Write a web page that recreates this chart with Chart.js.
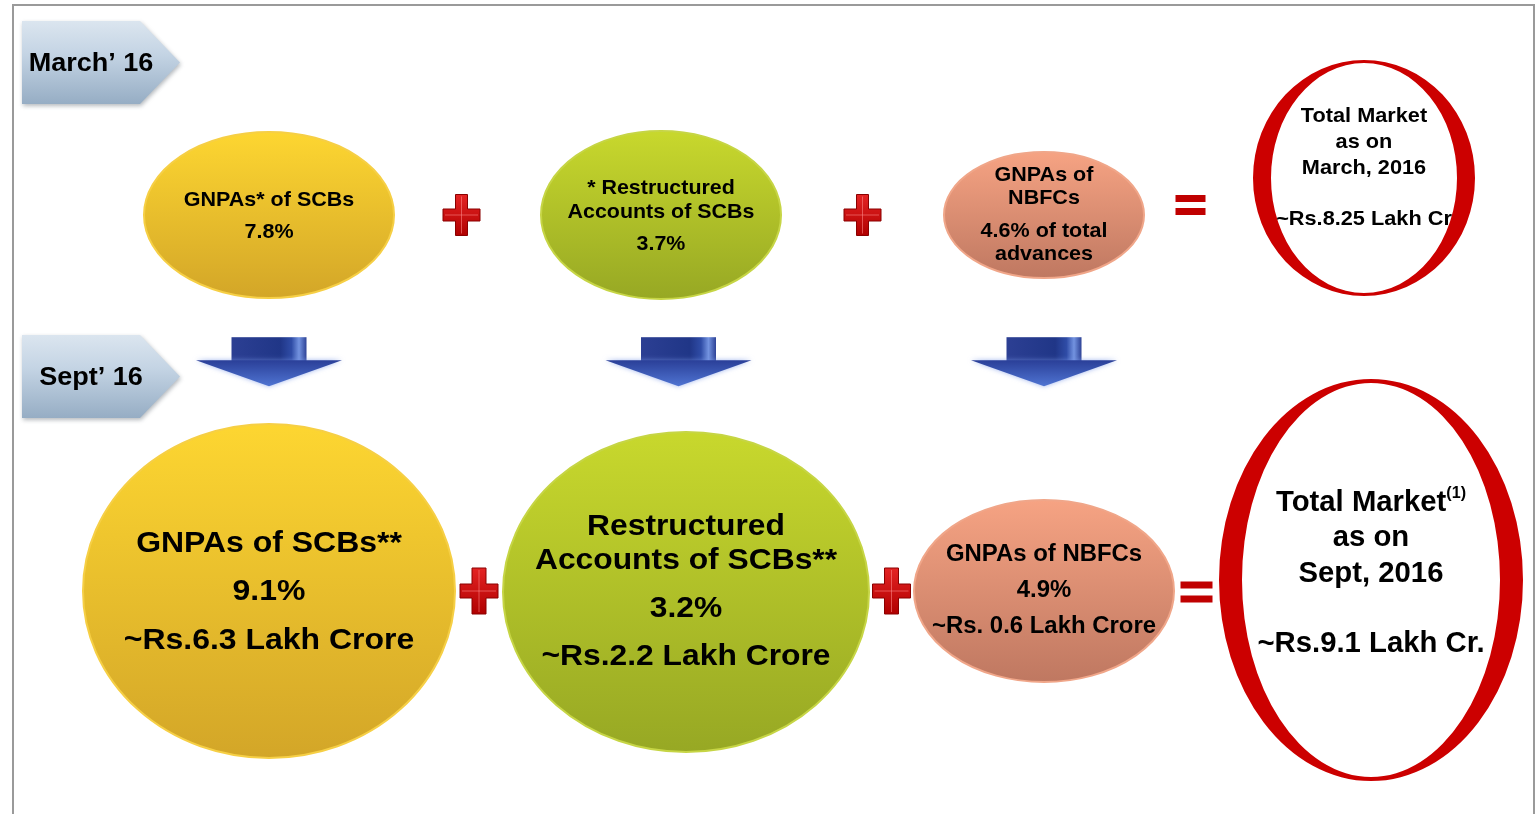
<!DOCTYPE html>
<html>
<head>
<meta charset="utf-8">
<title>GNPA market March'16 vs Sept'16</title>
<script src="https://cdn.jsdelivr.net/npm/chart.js@4.4.0/dist/chart.umd.min.js"></script>
<style>
  html, body { margin: 0; padding: 0; background: #fff; }
  #wrap { width: 1537px; height: 814px; }
</style>
</head>
<body>
<div id="wrap"><canvas id="npaChart" width="1537" height="814"></canvas></div>
<script>
const periods = ["March\u2019 16", "Sept\u2019 16"];
const components = ["GNPAs of SCBs", "Restructured Accounts of SCBs", "GNPAs of NBFCs", "Total Market"];

// % of advances
const marchPct = [7.8, 3.7, 4.6];
const septPct = [9.1, 3.2, 4.9];
// Rs. lakh crore
const septLakhCr = [6.3, 2.2, 0.6];
const septAmtPrefix = ["~Rs.", "~Rs.", "~Rs. "];
const marketLakhCr = [8.25, 9.1];

const marchNames = [["GNPAs* of SCBs"], ["* Restructured", "Accounts of SCBs"], ["GNPAs of", "NBFCs"]];
const septNames = [["GNPAs of SCBs**"], ["Restructured", "Accounts of SCBs**"], ["GNPAs of NBFCs"]];
const marketNames = [["Total Market", "as on", "March, 2016"], ["Total Market^(1)", "as on", "Sept, 2016"]];
const marketSuffix = [" Lakh Cr", " Lakh Cr."];

const FONT = '"Liberation Sans", Arial, sans-serif';

// paragraphs of text for each cell
function cellText(r, i) {
  if (i === 3) return [marketNames[r], ["~Rs." + marketLakhCr[r] + marketSuffix[r]]];
  if (r === 0) {
    const v = marchPct[i].toFixed(1) + "%";
    return [marchNames[i], i === 2 ? [v + " of total", "advances"] : [v]];
  }
  return [septNames[i], [septPct[i].toFixed(1) + "%"], [septAmtPrefix[i] + septLakhCr[i] + " Lakh Crore"]];
}

const fills = [
  { top: "#fdd631", bottom: "#d3a628", edge: "#f6cf45" },
  { top: "#c8d82d", bottom: "#97a824", edge: "#c6d545" },
  { top: "#f6a383", bottom: "#bf7861", edge: "#f0a689" }
];

const rowStyle = [
  {
    tabDy: -194, tabH: 83,
    shapes: [
      { dx: 0, dy: 0, rx: 125, ry: 83 },
      { dx: 26, dy: 0, rx: 120, ry: 84 },
      { dx: 43, dy: 0, rx: 100, ry: 63 },
      { dx: -3, dy: -37, rx: 111, ry: 118, side: 18, cap: 3 }
    ],
    text: [
      { fs: 20.5, sx: 1.05, lh: 24, pg: 32, dy: 1 },
      { fs: 20.5, sx: 1.045, lh: 24, pg: 32, dy: 1 },
      { fs: 20.5, sx: 1.05, lh: 23, pg: 33, dy: 0 },
      { fs: 20.5, sx: 1.06, lh: 26, pg: 51, dy: -10 }
    ],
    plus: { w: 37, h: 41, t: 12, dx: [-6, 0] },
    eq: { w: 30, t: 7, gap: 6, dy: -10, dx: -8 }
  },
  {
    tabDy: -256, tabH: 83,
    shapes: [
      { dx: 0, dy: 0, rx: 186, ry: 167 },
      { dx: 51, dy: 1, rx: 183, ry: 160 },
      { dx: 43, dy: 0, rx: 130, ry: 91 },
      { dx: 4, dy: -11, rx: 152, ry: 201, side: 23, cap: 4 }
    ],
    text: [
      { fs: 30, sx: 1.065, lh: 48, pg: 48.5, dy: 1 },
      { fs: 30, sx: 1.06, lh: 34, pg: 48, dy: 0 },
      { fs: 23, sx: 1.04, lh: 36, pg: 36, dy: 0 },
      { fs: 29, sx: 1.01, lh: 35.5, pg: 70, dy: -7 }
    ],
    plus: { w: 38, h: 46, t: 14, dx: [0, 0] },
    eq: { w: 32, t: 7, gap: 7, dy: 1, dx: 0 }
  }
];

function ellipsePath(ctx, cx, cy, rx, ry) {
  ctx.beginPath();
  ctx.ellipse(cx, cy, rx, ry, 0, 0, Math.PI * 2);
}

function drawBlob(ctx, cx, cy, rx, ry, f) {
  const g = ctx.createLinearGradient(0, cy - ry, 0, cy + ry);
  g.addColorStop(0, f.top);
  g.addColorStop(1, f.bottom);
  ellipsePath(ctx, cx, cy, rx, ry);
  ctx.fillStyle = g;
  ctx.fill();
  ctx.lineWidth = 2;
  ctx.strokeStyle = f.edge;
  ctx.stroke();
}

function drawRing(ctx, cx, cy, s) {
  ctx.beginPath();
  ctx.ellipse(cx, cy, s.rx, s.ry, 0, 0, Math.PI * 2);
  ctx.ellipse(cx, cy, s.rx - s.side, s.ry - s.cap, 0, 0, Math.PI * 2);
  ctx.fillStyle = "#cc0000";
  ctx.fill("evenodd");
}

function drawLines(ctx, cx, cy, paras, t) {
  let h = 0;
  paras.forEach((p, k) => { h += (p.length - 1) * t.lh; if (k > 0) h += t.pg; });
  let y = cy + t.dy - h / 2;
  ctx.save();
  ctx.translate(cx, 0);
  ctx.scale(t.sx, 1);
  ctx.fillStyle = "#000";
  ctx.textBaseline = "middle";
  ctx.textAlign = "left";
  const supFs = Math.round(t.fs * 0.55);
  paras.forEach((p, k) => {
    if (k > 0) y += t.pg;
    p.forEach((line, j) => {
      if (j > 0) y += t.lh;
      const parts = line.split("^");
      ctx.font = "bold " + t.fs + "px " + FONT;
      const w1 = ctx.measureText(parts[0]).width;
      let w2 = 0;
      if (parts[1]) { ctx.font = "bold " + supFs + "px " + FONT; w2 = ctx.measureText(parts[1]).width; }
      const x0 = -(w1 + w2) / 2;
      ctx.font = "bold " + t.fs + "px " + FONT;
      ctx.fillText(parts[0], x0, y);
      if (parts[1]) {
        ctx.font = "bold " + supFs + "px " + FONT;
        ctx.fillText(parts[1], x0 + w1, y - t.fs * 0.3);
      }
    });
  });
  ctx.restore();
}

function drawPlus(ctx, cx, cy, p) {
  const hw = p.w / 2, hh = p.h / 2, ht = p.t / 2;
  const path = new Path2D();
  path.moveTo(cx - ht, cy - hh); path.lineTo(cx + ht, cy - hh); path.lineTo(cx + ht, cy - ht);
  path.lineTo(cx + hw, cy - ht); path.lineTo(cx + hw, cy + ht); path.lineTo(cx + ht, cy + ht);
  path.lineTo(cx + ht, cy + hh); path.lineTo(cx - ht, cy + hh); path.lineTo(cx - ht, cy + ht);
  path.lineTo(cx - hw, cy + ht); path.lineTo(cx - hw, cy - ht); path.lineTo(cx - ht, cy - ht);
  path.closePath();
  const g = ctx.createLinearGradient(0, cy - hh, 0, cy + hh);
  g.addColorStop(0, "#e42424");
  g.addColorStop(1, "#b00000");
  ctx.fillStyle = g;
  ctx.fill(path);
  ctx.lineWidth = 1;
  ctx.strokeStyle = "#8a0000";
  ctx.stroke(path);
  // bevel ridges
  ctx.strokeStyle = "rgba(255,140,140,0.55)";
  ctx.beginPath();
  ctx.moveTo(cx, cy - hh + 2); ctx.lineTo(cx, cy + hh - 2);
  ctx.moveTo(cx - hw + 2, cy); ctx.lineTo(cx + hw - 2, cy);
  ctx.stroke();
}

function drawEquals(ctx, cx, cy, e) {
  ctx.fillStyle = "#c00000";
  ctx.fillRect(cx - e.w / 2, cy - e.gap / 2 - e.t, e.w, e.t);
  ctx.fillRect(cx - e.w / 2, cy + e.gap / 2, e.w, e.t);
}

function drawTab(ctx, top, h, label) {
  const x0 = 22, x1 = 140, x2 = 180;
  ctx.save();
  ctx.shadowColor = "rgba(90,100,110,0.45)";
  ctx.shadowBlur = 4;
  ctx.shadowOffsetX = 1;
  ctx.shadowOffsetY = 2;
  const g = ctx.createLinearGradient(0, top, 0, top + h);
  g.addColorStop(0, "#dbe5ef");
  g.addColorStop(0.4, "#c4d4e4");
  g.addColorStop(1, "#96adc4");
  ctx.beginPath();
  ctx.moveTo(x0, top); ctx.lineTo(x1, top); ctx.lineTo(x2, top + h / 2);
  ctx.lineTo(x1, top + h); ctx.lineTo(x0, top + h); ctx.closePath();
  ctx.fillStyle = g;
  ctx.fill();
  ctx.restore();
  ctx.save();
  ctx.translate(91, 0);
  ctx.scale(1.04, 1);
  ctx.fillStyle = "#000";
  ctx.font = "bold 26px " + FONT;
  ctx.textAlign = "center";
  ctx.textBaseline = "middle";
  ctx.fillText(label, 0, top + h / 2 + 1);
  ctx.restore();
}

function drawArrow(ctx, cx, top) {
  const sw = 75, sh = 25, hw = 146, hh = 24;
  const g = ctx.createLinearGradient(cx - sw / 2, 0, cx + sw / 2, 0);
  g.addColorStop(0, "#2c3f93");
  g.addColorStop(0.65, "#203687");
  g.addColorStop(0.8, "#2f4ca6");
  g.addColorStop(0.9, "#7393e0");
  g.addColorStop(1, "#2d4296");
  ctx.fillStyle = g;
  ctx.fillRect(cx - sw / 2, top, sw, sh);
  ctx.save();
  ctx.shadowColor = "rgba(120,150,230,0.7)";
  ctx.shadowBlur = 5;
  const hg = ctx.createLinearGradient(0, top + sh - 2, 0, top + sh + hh);
  hg.addColorStop(0, "#2a3f98");
  hg.addColorStop(1, "#4f74d2");
  ctx.beginPath();
  ctx.moveTo(cx - hw / 2, top + sh - 2);
  ctx.lineTo(cx + hw / 2, top + sh - 2);
  ctx.lineTo(cx, top + sh + hh);
  ctx.closePath();
  ctx.fillStyle = hg;
  ctx.fill();
  ctx.restore();
}

const infographic = {
  id: "infographic",
  beforeDraw(chart) {
    const ctx = chart.ctx;
    ctx.save();
    ctx.strokeStyle = "#9a9a9a";
    ctx.lineWidth = 2;
    ctx.beginPath();
    ctx.moveTo(13, 814); ctx.lineTo(13, 5); ctx.lineTo(1534, 5); ctx.lineTo(1534, 814);
    ctx.stroke();
    ctx.restore();
  },
  afterDatasetsDraw(chart) {
    const ctx = chart.ctx;
    ctx.save();
    const centres = [];
    periods.forEach((p, r) => {
      const st = rowStyle[r];
      const pts = chart.getDatasetMeta(r).data;
      const row = pts.map((el, i) => ({
        x: el.x + st.shapes[i].dx,
        y: el.y + st.shapes[i].dy,
        s: st.shapes[i]
      }));
      centres.push(row);
      drawTab(ctx, pts[0].y + st.tabDy, st.tabH, p);
      row.forEach((c, i) => {
        if (i < 3) drawBlob(ctx, c.x, c.y, c.s.rx, c.s.ry, fills[i]);
        else drawRing(ctx, c.x, c.y, c.s);
        drawLines(ctx, c.x, c.y, cellText(r, i), st.text[i]);
      });
      // operators sit in the gaps between neighbouring shapes
      for (let i = 0; i < 3; i++) {
        const gx = (row[i].x + row[i].s.rx + row[i + 1].x - row[i + 1].s.rx) / 2;
        if (i < 2) drawPlus(ctx, gx + st.plus.dx[i], pts[0].y, st.plus);
        else drawEquals(ctx, gx + st.eq.dx, pts[0].y + st.eq.dy, st.eq);
      }
    });
    const y0 = chart.getDatasetMeta(0).data[0].y;
    const y1 = chart.getDatasetMeta(1).data[0].y;
    for (let i = 0; i < 3; i++) {
      drawArrow(ctx, (centres[0][i].x + centres[1][i].x) / 2 + (i === 1 ? 5 : 0), y0 + (y1 - y0) * 0.325);
    }
    ctx.restore();
  }
};

new Chart(document.getElementById("npaChart"), {
  type: "scatter",
  data: {
    datasets: periods.map((p, r) => ({
      label: p,
      data: components.map((c, i) => ({
        x: c,
        y: p,
        v: i === 3 ? marketLakhCr[r] : (r === 0 ? marchPct[i] : septPct[i])
      })),
      pointRadius: 0,
      pointHoverRadius: 0
    }))
  },
  options: {
    responsive: false,
    animation: false,
    events: [],
    layout: { padding: { left: 269, right: 170, top: 215, bottom: 223 } },
    scales: {
      x: { type: "category", labels: components, offset: false, display: false },
      y: { type: "category", labels: periods, offset: false, display: false }
    },
    plugins: { legend: { display: false }, tooltip: { enabled: false } }
  },
  plugins: [infographic]
});
</script>
</body>
</html>
